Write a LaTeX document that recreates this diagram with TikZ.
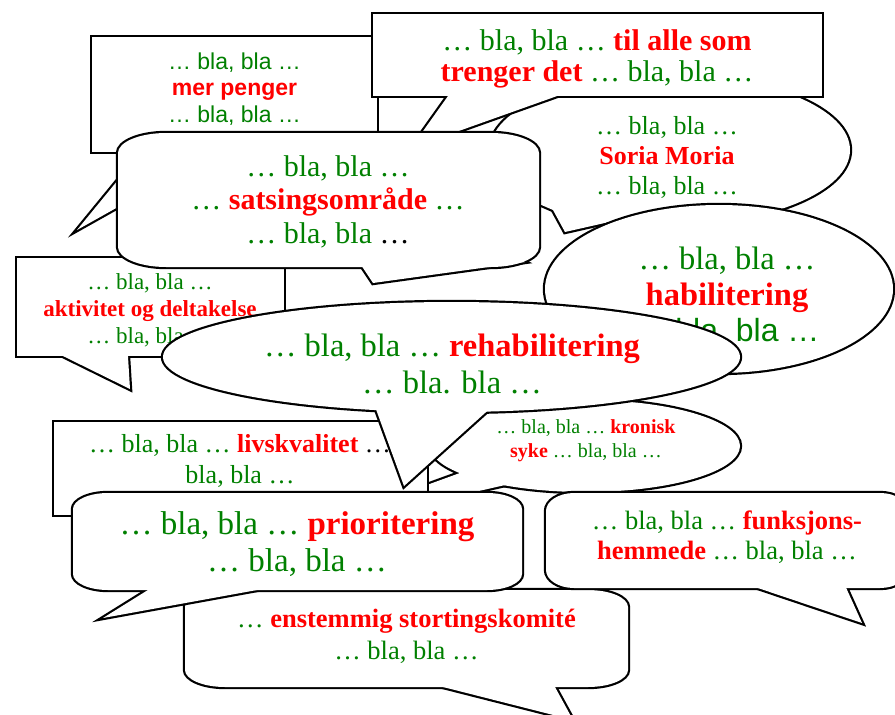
\documentclass[tikz,border=0pt]{standalone}
\usepackage{fontspec}
\setmainfont{Liberation Serif}
\setsansfont{Liberation Sans}
\definecolor{bgreen}{RGB}{0,128,0}
\definecolor{bred}{RGB}{255,0,0}
\newcommand\gr[1]{\textcolor{bgreen}{#1}}
\newcommand\rd[1]{\textcolor{bred}{\bfseries #1}}
\newcommand\rrpath[6]{(#1+#5,#2) -- (#3-#5,#2) .. controls (#3-0.45*#5,#2) and (#3,#2+0.45*#6) .. (#3,#2+#6) -- (#3,#4-#6) .. controls (#3,#4-0.45*#6) and (#3-0.45*#5,#4) .. (#3-#5,#4) -- (#1+#5,#4) .. controls (#1+0.45*#5,#4) and (#1,#4-0.45*#6) .. (#1,#4-#6) -- (#1,#2+#6) .. controls (#1,#2+0.45*#6) and (#1+0.45*#5,#2) .. (#1+#5,#2) -- cycle}
\newcommand\speechbubble[2]{\draw[bubline] #1; \draw[bubline] #2; \fill[white] #1; \fill[white] #2;}
\newcommand\speechshape[1]{\draw[bubline] #1; \fill[white] #1;}
\begin{document}
\begin{tikzpicture}[x=1pt,y=-1pt,
  bubline/.style={draw=black,line width=4.4pt,line join=miter},
  txt/.style={align=center,inner sep=0pt}]
\useasboundingbox (0,0) rectangle (895,715);
\fill[white] (0,0) rectangle (895,715);
\clip (0,0) rectangle (895,715);

% mer penger
\speechbubble{(92,37) rectangle (377,152)}{(146.7,145) -- (77,230) -- (228.5,145) -- cycle}
\node[txt,font={\sffamily\fontsize{23}{26.5}\selectfont}] (tA) at (234.5,88.7)
  {\gr{… bla, bla …}\\\rd{mer penger}\\\gr{… bla, bla …}};

% Soria Moria
\speechbubble{(670,150) ellipse [x radius=180, y radius=75]}{(530,200) -- (553,210) -- (565,232) -- (640,215) -- cycle}
\node[txt,font={\fontsize{26}{30}\selectfont}] (tC) at (667,157)
  {\gr{… bla, bla …}\\\rd{Soria Moria}\\\gr{… bla, bla …}};

% til alle som
\speechbubble{(373,14) rectangle (822,96)}{(452.3,90) -- (411,148) -- (574,90) -- cycle}
\node[txt,font={\fontsize{30}{31}\selectfont}] (tB) at (597,58.5)
  {\gr{… bla, bla …} \rd{til alle som}\\\rd{trenger det} \gr{… bla, bla …}};

% aktivitet og deltakelse
\speechbubble{(17,258) rectangle (284,356)}{(50.8,350) -- (130,389) -- (127.6,350) -- cycle}
\node[txt,font={\fontsize{23}{27}\selectfont}] (tE) at (150,310)
  {\gr{… bla, bla …}\\\rd{aktivitet og deltakelse}\\\gr{… bla, bla …}};

% satsingsomraade
\speechbubble{\rrpath{118}{133}{539}{267}{48}{20}}{(359,262) -- (373,283) -- (525,262) -- (505,252) -- (450,250) -- cycle}
\node[txt,font={\fontsize{30}{33.5}\selectfont}] (tD) at (328,201.7)
  {\gr{… bla, bla …}\\\gr{…} \rd{satsingsområde} \gr{…}\\\gr{… bla, bla} …};

% habilitering
\speechshape{(719,289) ellipse [x radius=174, y radius=84]}
\node[txt,font={\fontsize{32.5}{36}\selectfont}] (tF) at (727,296)
  {\gr{… bla, bla …}\\\rd{habilitering}\\{\sffamily\fontsize{32}{36}\selectfont\gr{… bla, bla …}}};

% kronisk syke
\speechbubble{(585,446) ellipse [x radius=155, y radius=46]}{(475,467.5) -- (295,533) -- (520,481.6) -- cycle}
\node[txt,font={\fontsize{20}{24}\selectfont}] (tH) at (586,441)
  {\gr{… bla, bla …} \rd{kronisk}\\\rd{syke} \gr{… bla, bla …}};

% livskvalitet
\speechshape{(54,422) rectangle (427,515)}
\node[txt,font={\fontsize{26}{31}\selectfont}] (tI) at (240,460.5)
  {\gr{… bla, bla …} \rd{livskvalitet} …\\\gr{bla, bla …}};

% rehabilitering
\speechbubble{(451.5,357) ellipse [x radius=288.5, y radius=55]}{(372.6,400) -- (404,486) -- (499.4,400) -- cycle}
\node[txt,font={\fontsize{32.5}{37}\selectfont}] (tG) at (452,363.5)
  {\gr{… bla, bla …} \rd{rehabilitering}\\\gr{… bla. bla …}};

% enstemmig stortingskomite
\speechbubble{\rrpath{185}{590}{628}{687}{40}{17}}{(419.4,681) -- (573,720) -- (551.7,681) -- cycle}
\node[txt,font={\fontsize{26.5}{32}\selectfont}] (tL) at (406.5,636)
  {\gr{…} \rd{enstemmig stortingskomité}\\\gr{… bla, bla …}};

% prioritering
\speechbubble{\rrpath{73}{493}{522}{590}{35}{16}}{(157.6,584) -- (103,618) -- (290,584) -- cycle}
\node[txt,font={\fontsize{33}{37}\selectfont}] (tJ) at (297,544.5)
  {\gr{… bla, bla …} \rd{prioritering}\\\gr{… bla, bla …}};

% funksjonshemmede
\speechbubble{\rrpath{546}{493}{908}{588}{28}{18}}{(740,582) -- (862,623) -- (843.5,582) -- cycle}
\node[txt,font={\fontsize{26.5}{30}\selectfont}] (tK) at (727,537)
  {\gr{… bla, bla …} \rd{funksjons-}\\\rd{hemmede} \gr{… bla, bla …}};
\end{tikzpicture}
\end{document}
